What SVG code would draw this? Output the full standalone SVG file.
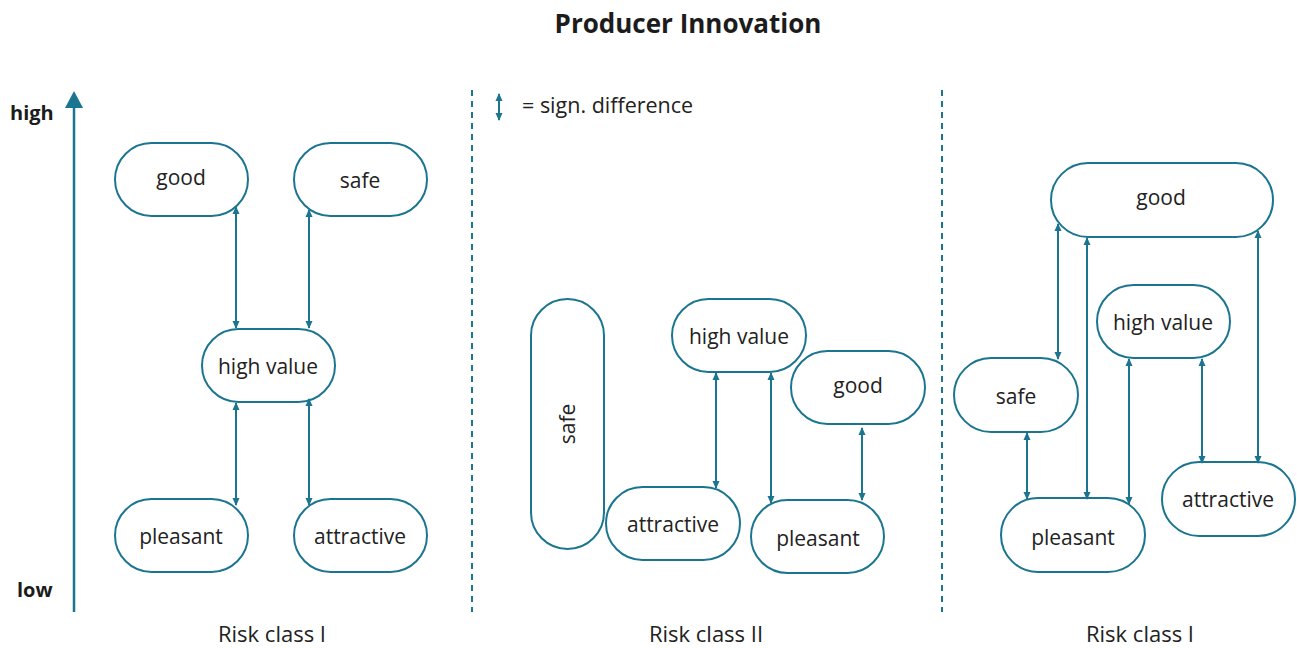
<svg xmlns="http://www.w3.org/2000/svg" width="1297" height="648" viewBox="0 0 1297 648">
<style>
.n{fill:#fff;stroke:#1b7590;stroke-width:2}
.t{font-family:"Open Sans","Noto Sans",sans-serif;font-size:21px;fill:#222;text-anchor:middle;dominant-baseline:central}
.r{font-family:"Open Sans","Noto Sans",sans-serif;font-size:22px;fill:#222;text-anchor:middle}
.b{font-family:"Open Sans","Noto Sans",sans-serif;font-weight:bold;fill:#1c1c1c}
.c{stroke:#1b7590;stroke-width:2;fill:none;marker-start:url(#ah);marker-end:url(#ah)}
.d{stroke:#1b7590;stroke-width:2;stroke-dasharray:6,5}
</style>
<defs>
<marker id="ah" viewBox="0 0 8 8" refX="7" refY="4" markerWidth="8" markerHeight="8" markerUnits="userSpaceOnUse" orient="auto-start-reverse">
<path d="M0,0.5 L8,4 L0,7.5 Z" fill="#1b7590"/>
</marker>
</defs>
<rect width="1297" height="648" fill="#fff"/>
<text class="b" x="688" y="33" font-size="26" text-anchor="middle">Producer Innovation</text>
<g id="axis">
<line x1="74" y1="106" x2="74" y2="612" stroke="#1b7590" stroke-width="2.5"/>
<path d="M65,108 L74,91 L83,108 Z" fill="#1b7590"/>
<text class="b" x="10" y="120" font-size="20">high</text>
<text class="b" x="17" y="597" font-size="20">low</text>
</g>
<g id="separators">
<line class="d" x1="472" y1="90" x2="472" y2="612"/>
<line class="d" x1="942" y1="90" x2="942" y2="612"/>
</g>
<g id="legend">
<line class="c" x1="499" y1="94" x2="499" y2="120"/>
<text x="522" y="113" font-family="Open Sans, Noto Sans, sans-serif" font-size="21.5" fill="#222">= sign. difference</text>
</g>
<g id="p1-good"><rect class="n" x="115" y="143" width="133" height="73" rx="36.5"/><text class="t" x="181" y="177">good</text></g>
<g id="p1-safe"><rect class="n" x="294" y="143" width="133" height="73" rx="36.5"/><text class="t" x="360" y="180">safe</text></g>
<g id="p1-highvalue"><rect class="n" x="202" y="329" width="133" height="73" rx="36.5"/><text class="t" x="268" y="366">high value</text></g>
<g id="p1-pleasant"><rect class="n" x="115" y="499" width="133" height="73" rx="36.5"/><text class="t" x="181" y="536">pleasant</text></g>
<g id="p1-attractive"><rect class="n" x="294" y="499" width="133" height="73" rx="36.5"/><text class="t" x="360" y="536">attractive</text></g>
<g id="p2-safe"><rect class="n" x="531" y="299" width="73" height="250" rx="36.5"/><text class="t" transform="translate(567,424) rotate(-90)" x="0" y="0">safe</text></g>
<g id="p2-highvalue"><rect class="n" x="672" y="299" width="134" height="73" rx="36.5"/><text class="t" x="739" y="336">high value</text></g>
<g id="p2-good"><rect class="n" x="791" y="351" width="134" height="73" rx="36.5"/><text class="t" x="858" y="385">good</text></g>
<g id="p2-attractive"><rect class="n" x="606" y="487" width="134" height="73" rx="36.5"/><text class="t" x="673" y="524">attractive</text></g>
<g id="p2-pleasant"><rect class="n" x="751" y="500" width="133" height="73" rx="36.5"/><text class="t" x="818" y="538">pleasant</text></g>
<g id="p3-good"><rect class="n" x="1051" y="163" width="222" height="74" rx="37"/><text class="t" x="1161" y="197">good</text></g>
<g id="p3-highvalue"><rect class="n" x="1097" y="285" width="133" height="73" rx="36.5"/><text class="t" x="1163" y="322">high value</text></g>
<g id="p3-safe"><rect class="n" x="954" y="358" width="124" height="74" rx="37"/><text class="t" x="1016" y="396">safe</text></g>
<g id="p3-pleasant"><rect class="n" x="1001" y="498" width="144" height="74" rx="37"/><text class="t" x="1073" y="537">pleasant</text></g>
<g id="p3-attractive"><rect class="n" x="1162" y="462" width="133" height="74" rx="37"/><text class="t" x="1228" y="499">attractive</text></g>
<g id="connectors">
<line class="c" x1="236" y1="207" x2="236" y2="328"/>
<line class="c" x1="309" y1="210" x2="309" y2="328"/>
<line class="c" x1="236" y1="403" x2="236" y2="505"/>
<line class="c" x1="309" y1="399" x2="309" y2="505"/>
<line class="c" x1="716" y1="373" x2="716" y2="488"/>
<line class="c" x1="771" y1="373" x2="771" y2="503"/>
<line class="c" x1="862" y1="428" x2="862" y2="500"/>
<line class="c" x1="1058" y1="224" x2="1058" y2="359"/>
<line class="c" x1="1087" y1="238" x2="1087" y2="499"/>
<line class="c" x1="1258" y1="231" x2="1258" y2="463"/>
<line class="c" x1="1027" y1="433" x2="1027" y2="499"/>
<line class="c" x1="1129" y1="359" x2="1129" y2="504"/>
<line class="c" x1="1202" y1="359" x2="1202" y2="463"/>
</g>
<g id="labels">
<text class="r" x="272" y="642">Risk class I</text>
<text class="r" x="706" y="642">Risk class II</text>
<text class="r" x="1140" y="642">Risk class I</text>
</g>
</svg>
